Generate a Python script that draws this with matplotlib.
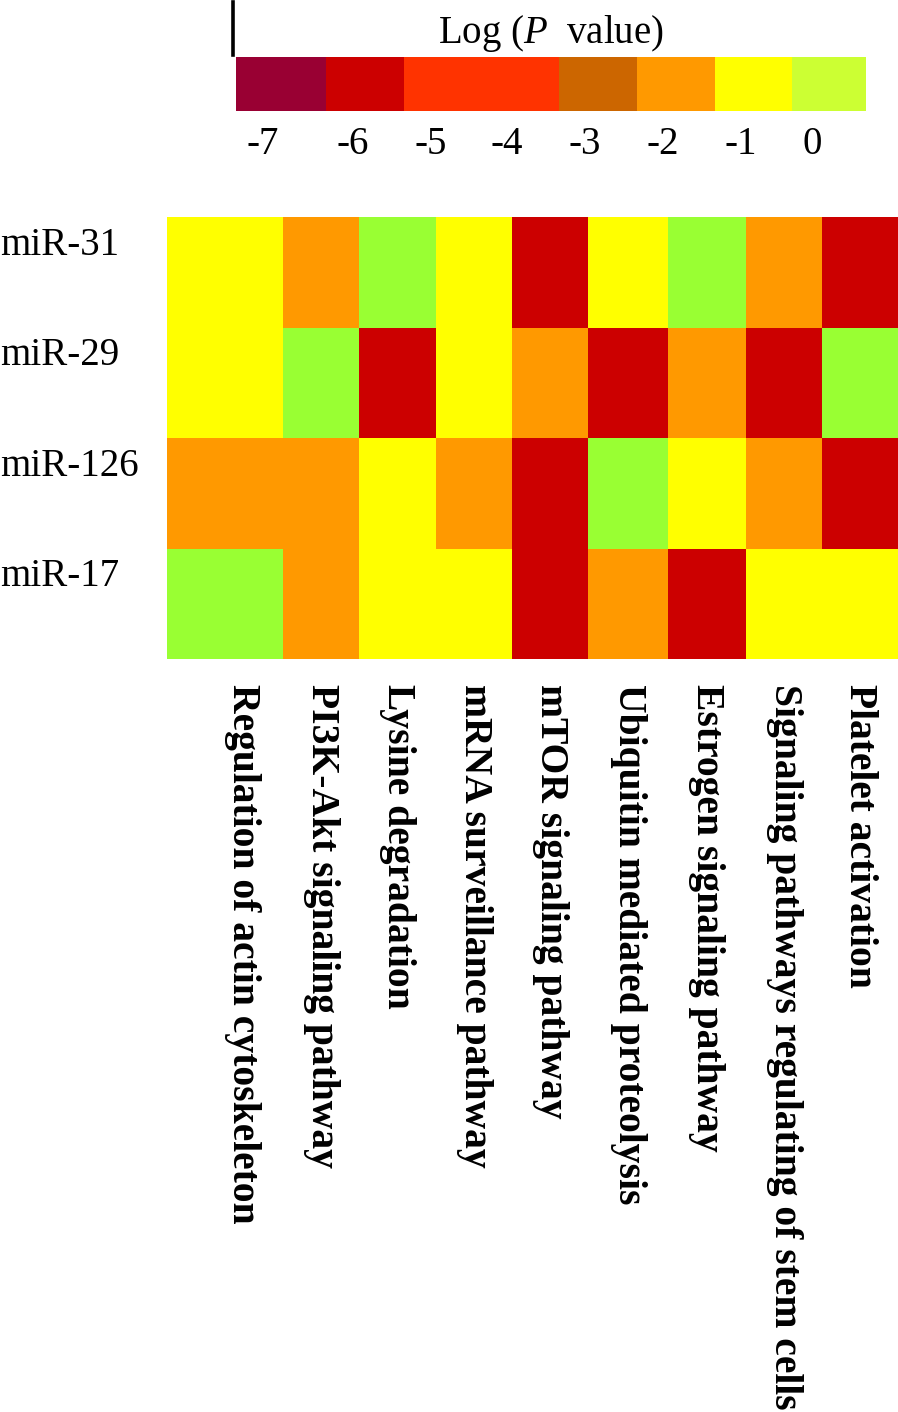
import numpy as np
import matplotlib
matplotlib.use('Agg')
import matplotlib.pyplot as plt
from matplotlib.colors import ListedColormap, BoundaryNorm
from matplotlib.lines import Line2D
import matplotlib.transforms as mtransforms

plt.rcParams['font.family'] = ['Liberation Serif', 'DejaVu Serif']
plt.rcParams['mathtext.fontset'] = 'custom'
plt.rcParams['mathtext.rm'] = 'Liberation Serif'
plt.rcParams['mathtext.it'] = 'Liberation Serif:italic'

# data
mirnas = ['miR-31', 'miR-29', 'miR-126', 'miR-17']
pathways = ['Regulation of actin cytoskeleton', 'PI3K-Akt signaling pathway',
            'Lysine degradation', 'mRNA surveillance pathway',
            'mTOR signaling pathway', 'Ubiquitin mediated proteolysis',
            'Estrogen signaling pathway',
            'Signaling pathways regulating of stem cells', 'Platelet activation']
log_p = np.array([
    [-1, -2, 0, -1, -6, -1, 0, -2, -6],
    [-1, 0, -6, -1, -2, -6, -2, -6, 0],
    [-2, -2, -1, -2, -6, 0, -1, -2, -6],
    [0, -2, -1, -1, -6, -2, -6, -1, -1],
])
scale_levels = [-7, -6, -5, -4, -3, -2, -1, 0]
scale_colors = ['#990033', '#CC0000', '#FF3300', '#FF3300', '#CC6600',
                '#FF9900', '#FFFF00', '#CCFF33']
cell_colors = scale_colors[:-1] + ['#99FF33']

# layout (pixel widths in the original)
col_widths = [116, 76, 77, 76, 76, 80, 78, 76, 76]
seg_widths = [90, 78, 77, 78, 78, 78, 77, 74]

W, H = 898, 1412
fig = plt.figure(figsize=(W / 100, H / 100), dpi=100)

def fbox(x0, y0, x1, y1):
    return [x0 / W, 1 - y1 / H, (x1 - x0) / W, (y1 - y0) / H]

bounds = np.arange(-7.5, 1.0, 1.0)

# heatmap
ax = fig.add_axes(fbox(167, 217, 898, 659))
xedges = np.concatenate([[0], np.cumsum(col_widths)])
yedges = np.arange(len(mirnas) + 1)
ax.pcolormesh(xedges, yedges, log_p, cmap=ListedColormap(cell_colors),
              norm=BoundaryNorm(bounds, len(cell_colors)))
ax.set_xlim(xedges[0], xedges[-1])
ax.set_ylim(len(mirnas), 0)
for s in ax.spines.values():
    s.set_visible(False)
ax.set_yticks([])
xc = (xedges[:-1] + xedges[1:]) / 2
ax.set_xticks(xc)
ax.set_xticklabels(pathways, rotation=270, fontsize=28.5, fontweight='bold',
                   va='top', ha='center')
ax.tick_params(axis='x', length=0, pad=18)
# first label sits right of its column centre
off = mtransforms.ScaledTranslation(17 / 100, 0, fig.dpi_scale_trans)
lbl0 = ax.get_xticklabels()[0]
lbl0.set_transform(lbl0.get_transform() + off)

up = mtransforms.ScaledTranslation(0, 27 / 100, fig.dpi_scale_trans)
trans = mtransforms.blended_transform_factory(fig.transFigure, ax.transData) + up
for i, name in enumerate(mirnas):
    ax.text(0.0, i + 0.5, name, transform=trans, ha='left', va='center',
            fontsize=28)

# colour scale
cax = fig.add_axes(fbox(236, 57, 866, 111))
sedges = np.concatenate([[0], np.cumsum(seg_widths)])
cax.pcolormesh(sedges, [0, 1], np.array([scale_levels]),
               cmap=ListedColormap(scale_colors),
               norm=BoundaryNorm(bounds, len(scale_colors)))
cax.set_xlim(sedges[0], sedges[-1])
cax.set_ylim(0, 1)
for s in cax.spines.values():
    s.set_visible(False)
cax.set_yticks([])
cax.set_xticks(sedges[:-1] + 10)
cax.set_xticklabels([str(v) for v in scale_levels], fontsize=28, ha='left')
cax.tick_params(axis='x', length=0, pad=11)
cax.set_title('Log ($P$  value)', fontsize=28, pad=10, x=0.5)

fig.add_artist(Line2D([233 / W, 233 / W], [1 - 2 / H, 1 - 55 / H],
                      color='black', lw=2.6, transform=fig.transFigure))

fig.savefig('out.png', dpi=100)
